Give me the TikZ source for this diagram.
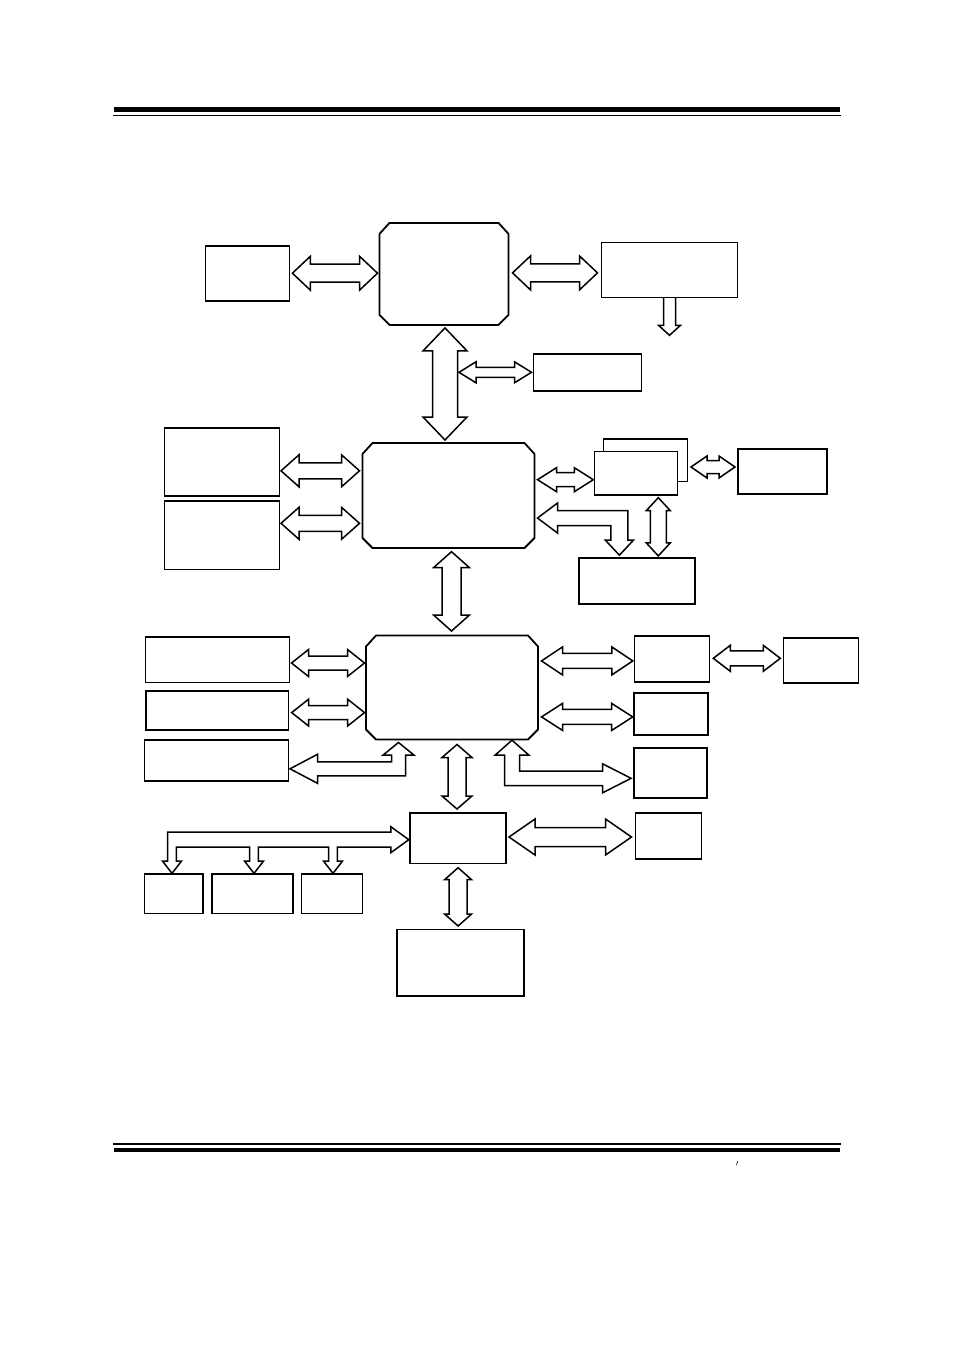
\documentclass[tikz,border=0pt]{standalone}
\usepackage{tikz}
\usetikzlibrary{calc}

\tikzset{
  blk/.style={draw, line width=1.6pt, inner sep=0pt, outer sep=0pt},
  octo/.style={inner sep=0pt, outer sep=0pt},
  barrow/.style={draw, line width=1.5pt, line join=miter},
  chip/.style={draw, line width=1.8pt, line join=round}
}

% double headed block arrows: tip, tip, half shaft, half head, head length
\newcommand{\hdarrow}[5]{%
  \draw[barrow] let \p1=#1, \p2=#2 in
    (\x1,\y1) -- (\x1+#5,\y1+#4) -- (\x1+#5,\y1+#3) -- (\x2-#5,\y1+#3)
    -- (\x2-#5,\y1+#4) -- (\x2,\y1) -- (\x2-#5,\y1-#4) -- (\x2-#5,\y1-#3)
    -- (\x1+#5,\y1-#3) -- (\x1+#5,\y1-#4) -- cycle;}
\newcommand{\vdarrow}[5]{%
  \draw[barrow] let \p1=#1, \p2=#2 in
    (\x1,\y1) -- (\x1+#4,\y1-#5) -- (\x1+#3,\y1-#5) -- (\x1+#3,\y2+#5)
    -- (\x1+#4,\y2+#5) -- (\x1,\y2) -- (\x1-#4,\y2+#5) -- (\x1-#3,\y2+#5)
    -- (\x1-#3,\y1-#5) -- (\x1-#4,\y1-#5) -- cycle;}
% chip outline with cut corners
\newcommand{\chamfer}[1]{%
  \draw[chip] ([xshift=10pt]#1.north west) -- ([xshift=-10pt]#1.north east)
    -- ([yshift=-11pt]#1.north east) -- ([yshift=10pt]#1.south east)
    -- ([xshift=-10pt]#1.south east) -- ([xshift=10pt]#1.south west)
    -- ([yshift=10pt]#1.south west) -- ([yshift=-11pt]#1.north west) -- cycle;}

\begin{document}
\begin{tikzpicture}[x=1pt, y=-1pt]
  \useasboundingbox (0,0) rectangle (954,1349);

  % page rules
  \fill (114,106.5) rectangle (840,111.5);
  \draw[line width=1.3pt] (113,115.5) -- (841,115.5);
  \draw[line width=1.8pt] (113,1143.7) -- (841,1143.7);
  \fill (114,1148) rectangle (840,1152.3);
  \node[font=\small] (tick) at (737,1164) {$\prime$};

  % chips
  \node[octo, minimum width=129pt, minimum height=102pt] (cpu) at (444,273.9) {};
  \node[octo, minimum width=172pt, minimum height=105pt] (nb) at (448.5,495.5) {};
  \node[octo, minimum width=172pt, minimum height=104pt] (sb) at (452,687.5) {};
  \chamfer{cpu}
  \chamfer{nb}
  \chamfer{sb}

  % boxes
  \node[blk, minimum width=84pt, minimum height=55pt] (mem) at (247.4,273.2) {};
  \node[blk, minimum width=136pt, minimum height=55pt] (agp) at (669.5,269.8) {};
  \node[blk, minimum width=108pt, minimum height=37pt] (cache) at (587.5,372.3) {};
  \node[blk, minimum width=115pt, minimum height=68pt] (L1) at (222,461.8) {};
  \node[blk, minimum width=115pt, minimum height=68.6pt] (L2) at (222,535) {};
  \node[blk, minimum width=84pt, minimum height=42.7pt] (back) at (645.5,460.3) {};
  \node[blk, fill=white, minimum width=83pt, minimum height=43.3pt] (front) at (635.8,473.3) {};
  \node[blk, minimum width=89pt, minimum height=45pt] (far) at (782.5,471.2) {};
  \node[blk, minimum width=116pt, minimum height=46pt] (low) at (636.8,580.9) {};
  \node[blk, minimum width=144pt, minimum height=45.6pt] (B1) at (217.5,659.5) {};
  \node[blk, minimum width=142.6pt, minimum height=39.3pt] (B2) at (217,710.4) {};
  \node[blk, minimum width=144pt, minimum height=40.7pt] (B3) at (216.5,760.4) {};
  \node[blk, minimum width=75pt, minimum height=45.7pt] (R1) at (671.8,658.9) {};
  \node[blk, minimum width=75pt, minimum height=45pt] (R1b) at (820.8,660.2) {};
  \node[blk, minimum width=74pt, minimum height=42.3pt] (R2) at (671.2,713.9) {};
  \node[blk, minimum width=73pt, minimum height=50pt] (R3) at (670.6,772.7) {};
  \node[blk, minimum width=66pt, minimum height=46.3pt] (R4) at (668.5,835.9) {};
  \node[blk, minimum width=96pt, minimum height=50.6pt] (C) at (458,838) {};
  \node[blk, minimum width=58.4pt, minimum height=39.3pt] (D1) at (173.8,893.7) {};
  \node[blk, minimum width=80.8pt, minimum height=39.3pt] (D2) at (252.6,893.7) {};
  \node[blk, minimum width=61pt, minimum height=39.3pt] (D3) at (332,893.7) {};
  \node[blk, minimum width=126.5pt, minimum height=66.4pt] (E) at (460.5,962.5) {};

  % top level
  \hdarrow{($(mem.east)+(3,0)$)}{($(cpu.west)+(-2,0)$)}{9pt}{17pt}{18pt}
  \hdarrow{($(cpu.east)+(4,-1)$)}{($(agp.west)+(-4,0)$)}{9pt}{17pt}{18pt}
  \coordinate (agpout) at ($(agp.south)+(0,38)$);
  \draw[barrow] let \p1=(agp.south), \p2=(agpout) in
    (\x1-6pt,\y1) -- (\x1-6pt,\y2+10pt) -- (\x1-11pt,\y2+10pt) -- (\x1,\y2)
    -- (\x1+11pt,\y2+10pt) -- (\x1+6pt,\y2+10pt) -- (\x1+6pt,\y1);
  \vdarrow{($(cpu.south)+(1,3)$)}{($(nb.north)+(0,-3)$)}{12.5pt}{22pt}{23pt}
  \coordinate (tap) at ($(cpu.south)+(15,0)$);
  \hdarrow{(tap |- cache.west)}{($(cache.west)+(-2,0)$)}{5pt}{10.5pt}{17pt}

  % north bridge
  \hdarrow{($(L1.east)+(1.5,9)$)}{($(nb.west)+(-3,0)$)}{8pt}{16pt}{18pt}
  \hdarrow{($(L2.east)+(1.5,-11.7)$)}{($(nb.west)+(-3,0)$)}{8pt}{16pt}{18pt}
  \hdarrow{($(nb.east |- front.west)+(3,6.4)$)}{($(front.west)+(-1,0)$)}{7pt}{12pt}{19pt}
  \hdarrow{($(back.east)+(3.5,6.7)$)}{($(far.west)+(-3,0)$)}{6.5pt}{11pt}{16pt}
  \draw[barrow] let \p1=($(nb.east)+(3,22.5)$), \p2=($(low.north)+(-17.4,-2.7)$) in
    (\x1,\y1) -- (\x1+20pt,\y1+15pt) -- (\x1+20pt,\y1+7.5pt) -- (\x2+8.5pt,\y1+7.5pt)
    -- (\x2+8.5pt,\y2+15pt) -- (\x2+14pt,\y2+15pt) -- (\x2,\y2) -- (\x2-14pt,\y2+15pt)
    -- (\x2-8.5pt,\y2+15pt) -- (\x2-8.5pt,\y1-7.5pt) -- (\x1+20pt,\y1-7.5pt)
    -- (\x1+20pt,\y1-15pt) -- cycle;
  \vdarrow{($(front.south)+(22.5,2.7)$)}{($(low.north)+(0,-2)$)}{8pt}{12pt}{13pt}
  \vdarrow{($(nb.south)+(3,3.7)$)}{($(sb.north)+(0,-4.5)$)}{9.5pt}{18pt}{16pt}

  % south bridge
  \hdarrow{($(B1.east)+(2,3.5)$)}{($(sb.west)+(-1.5,0)$)}{7pt}{13.5pt}{17pt}
  \hdarrow{($(B2.east)+(3.4,2.2)$)}{($(sb.west)+(-1.5,0)$)}{7pt}{13.5pt}{17pt}
  \draw[barrow] let \p1=($(B3.east)+(1.5,8.4)$), \p2=($(sb.south)+(-53.5,3)$) in
    (\x1,\y1) -- (\x1+27.5pt,\y1+14.5pt) -- (\x1+27.5pt,\y1+7pt) -- (\x2-7pt,\y1+7pt)
    -- (\x2-7pt,\y2-12.7pt) -- (\x2-15.6pt,\y2-12.7pt) -- (\x2,\y2) -- (\x2+15.6pt,\y2-12.7pt)
    -- (\x2+7pt,\y2-12.7pt) -- (\x2+7pt,\y1-7pt) -- (\x1+27.5pt,\y1-7pt)
    -- (\x1+27.5pt,\y1-14.5pt) -- cycle;
  \vdarrow{($(sb.south)+(5,5)$)}{($(C.north)+(0,-3.7)$)}{9pt}{15pt}{13pt}
  \draw[barrow] let \p1=($(sb.south)+(60,0.7)$), \p2=($(R3.west)+(-3,5.6)$) in
    (\x1,\y1) -- (\x1+17pt,\y1-15pt) -- (\x1+7.5pt,\y1-15pt) -- (\x1+7.5pt,\y2+7.3pt)
    -- (\x2-28.5pt,\y2+7.3pt) -- (\x2-28.5pt,\y2+14.5pt) -- (\x2,\y2) -- (\x2-28.5pt,\y2-14.5pt)
    -- (\x2-28.5pt,\y2-7.3pt) -- (\x1-7.5pt,\y2-7.3pt) -- (\x1-7.5pt,\y1-15pt)
    -- (\x1-17pt,\y1-15pt) -- cycle;
  \hdarrow{($(sb.east |- R1.west)+(3.5,2)$)}{($(R1.west)+(-1.5,0)$)}{7.5pt}{14pt}{21pt}
  \hdarrow{($(R1.east)+(4,-0.6)$)}{($(R1b.west)+(-3,0)$)}{7.5pt}{13pt}{17pt}
  \hdarrow{($(sb.east |- R2.west)+(3.5,3)$)}{($(R2.west)+(-1.5,0)$)}{7.5pt}{13.5pt}{21pt}

  % bottom
  \hdarrow{($(C.east)+(3,-1)$)}{($(R4.west)+(-4,0)$)}{9.5pt}{18pt}{26pt}
  \draw[barrow] let \p1=($(C.west)+(-1.2,1.7)$), \p2=($(D1.north)+(-1.8,-0.7)$),
      \p3=($(D2.north)+(1.4,-0.7)$), \p4=($(D3.north)+(1,-0.7)$) in
    (\x1,\y1) -- (\x1-18pt,\y1+13pt) -- (\x1-18pt,\y1+7.5pt) -- (\x2-4.3pt,\y1+7.5pt)
    -- (\x2-4.3pt,\y2+12.3pt) -- (\x2-9.5pt,\y2+12.3pt) -- (\x2,\y2) -- (\x2+9.5pt,\y2+12.3pt)
    -- (\x2+4.3pt,\y2+12.3pt) -- (\x2+4.3pt,\y1-7.5pt) -- (\x3-4.3pt,\y1-7.5pt)
    -- (\x3-4.3pt,\y3+12.3pt) -- (\x3-9.5pt,\y3+12.3pt) -- (\x3,\y3) -- (\x3+9.5pt,\y3+12.3pt)
    -- (\x3+4.3pt,\y3+12.3pt) -- (\x3+4.3pt,\y1-7.5pt) -- (\x4-4.3pt,\y1-7.5pt)
    -- (\x4-4.3pt,\y4+12.3pt) -- (\x4-9.5pt,\y4+12.3pt) -- (\x4,\y4) -- (\x4+9.5pt,\y4+12.3pt)
    -- (\x4+4.3pt,\y4+12.3pt) -- (\x4+4.3pt,\y1-7.5pt) -- (\x1-18pt,\y1-7.5pt)
    -- (\x1-18pt,\y1-13pt) -- cycle;
  \vdarrow{($(C.south)+(0.1,4.4)$)}{($(E.north)+(0,-3.3)$)}{9pt}{13.5pt}{12pt}
\end{tikzpicture}
\end{document}
